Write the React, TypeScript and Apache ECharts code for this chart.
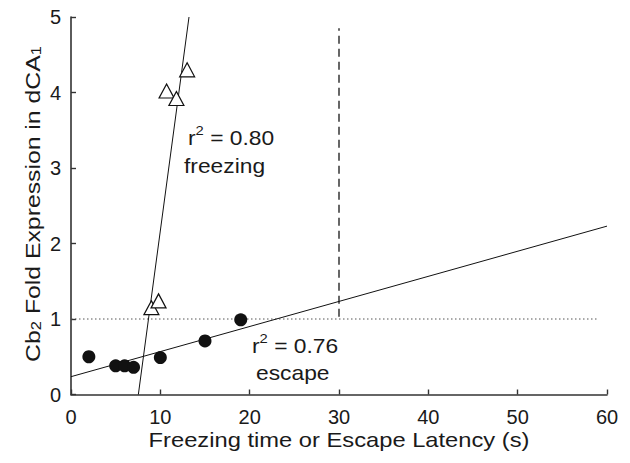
import React, { useEffect, useRef } from "react";
import * as echarts from "echarts";

const xTicks = [0, 10, 20, 30, 40, 50, 60];
const yTicks = [0, 1, 2, 3, 4, 5];

// escape latency (filled circles)
const escapeX = [2, 5, 6, 7, 10, 15, 19];
const escapeY = [0.5, 0.38, 0.38, 0.36, 0.49, 0.71, 0.99];

// freezing time (open triangles)
const freezeX = [9.0, 9.8, 10.7, 11.8, 13.0];
const freezeY = [1.15, 1.24, 4.02, 3.92, 4.3];

// regression lines
const escapeFit = [[0, 0.236], [60, 2.23]];
const freezeFit = [[7.54, 0], [13.21, 5]];

// reference lines
const thresholdLine = [[0, 1], [59, 1]];
const cutoffLine = [[30, 1.03], [30, 4.85]];

const FONT = "Liberation Sans, Arial, Helvetica, sans-serif";
const INK = "#1a1a1a";

export default function App() {
  const ref = useRef<HTMLDivElement>(null);
  useEffect(() => {
    if (!ref.current) return;
    const chart = echarts.init(ref.current, null, { renderer: "svg" });
    const axisCommon = {
      axisLine: { show: true, lineStyle: { color: "#333", width: 1.6 } },
      axisTick: { show: true, inside: true, length: 5, lineStyle: { color: "#333", width: 1.4 } },
      splitLine: { show: false },
      axisLabel: { color: INK, fontSize: 20, fontFamily: FONT },
    };
    const richR = {
      a: { fontSize: 20, fontFamily: FONT, fill: INK, lineHeight: 24, verticalAlign: "bottom" },
      p: { fontSize: 13, fontFamily: FONT, fill: INK, lineHeight: 24, verticalAlign: "top", padding: [0, 0, 8, 0] },
    };
    chart.setOption({
      animation: false,
      backgroundColor: "#fff",
      grid: { left: 71, right: 23, top: 17, bottom: 68.5 },
      xAxis: {
        type: "value",
        min: xTicks[0],
        max: xTicks[xTicks.length - 1],
        interval: 10,
        ...axisCommon,
        axisLabel: { ...axisCommon.axisLabel, margin: 12 },
      },
      yAxis: {
        type: "value",
        min: yTicks[0],
        max: yTicks[yTicks.length - 1],
        interval: 1,
        ...axisCommon,
        axisLabel: { ...axisCommon.axisLabel, margin: 10 },
      },
      series: [
        {
          type: "line",
          data: thresholdLine,
          showSymbol: false,
          lineStyle: { color: "#555", width: 1, type: [1.5, 2.5] },
          z: 1,
        },
        {
          type: "line",
          data: cutoffLine,
          showSymbol: false,
          lineStyle: { color: "#333", width: 1.5, type: [8, 5] },
          z: 1,
        },
        {
          type: "line",
          data: escapeFit,
          showSymbol: false,
          lineStyle: { color: "#111", width: 1 },
          z: 2,
        },
        {
          type: "line",
          data: freezeFit,
          showSymbol: false,
          lineStyle: { color: "#111", width: 1 },
          z: 2,
        },
        {
          type: "scatter",
          data: escapeX.map((x, i) => [x, escapeY[i]]),
          symbol: "circle",
          symbolSize: 13,
          itemStyle: { color: "#111", opacity: 1 },
          z: 3,
        },
        {
          type: "scatter",
          data: freezeX.map((x, i) => [x, freezeY[i]]),
          symbol: "triangle",
          symbolSize: [15, 14],
          itemStyle: { color: "#fff", borderColor: "#111", borderWidth: 1.2, opacity: 1 },
          z: 3,
        },
      ],
      graphic: [
        {
          type: "text",
          x: 339,
          y: 440,
          scaleX: 1.13,
          style: {
            text: "Freezing time or Escape Latency (s)",
            fontSize: 21,
            fontFamily: FONT,
            fill: INK,
            align: "center",
            verticalAlign: "middle",
          },
        },
        {
          type: "text",
          x: 30,
          y: 204,
          rotation: Math.PI / 2,
          scaleX: 1.18,
          style: {
            text: "{a|Cb}{s|2}{a| Fold Expression in dCA}{s|1}",
            fontFamily: FONT,
            fill: INK,
            align: "center",
            verticalAlign: "middle",
            rich: {
              a: { fontSize: 21, fontFamily: FONT, fill: INK, lineHeight: 26, verticalAlign: "bottom" },
              s: { fontSize: 14, fontFamily: FONT, fill: INK, lineHeight: 26, verticalAlign: "bottom", padding: [12, 0, 0, 0] },
            },
          },
        },
        {
          type: "text",
          x: 188,
          y: 136,
          scaleX: 1.14,
          style: {
            text: "{a|r}{p|2}{a| = 0.80}",
            fontFamily: FONT,
            align: "left",
            verticalAlign: "middle",
            rich: richR,
          },
        },
        {
          type: "text",
          x: 184,
          y: 166,
          scaleX: 1.14,
          style: { text: "freezing", fontSize: 20, fontFamily: FONT, fill: INK, align: "left", verticalAlign: "middle" },
        },
        {
          type: "text",
          x: 252,
          y: 344,
          scaleX: 1.14,
          style: {
            text: "{a|r}{p|2}{a| = 0.76}",
            fontFamily: FONT,
            align: "left",
            verticalAlign: "middle",
            rich: richR,
          },
        },
        {
          type: "text",
          x: 256,
          y: 373,
          scaleX: 1.14,
          style: { text: "escape", fontSize: 20, fontFamily: FONT, fill: INK, align: "left", verticalAlign: "middle" },
        },
      ],
    });
    return () => chart.dispose();
  }, []);
  return <div ref={ref} style={{ width: 630, height: 463, margin: -8 }} />;
}
